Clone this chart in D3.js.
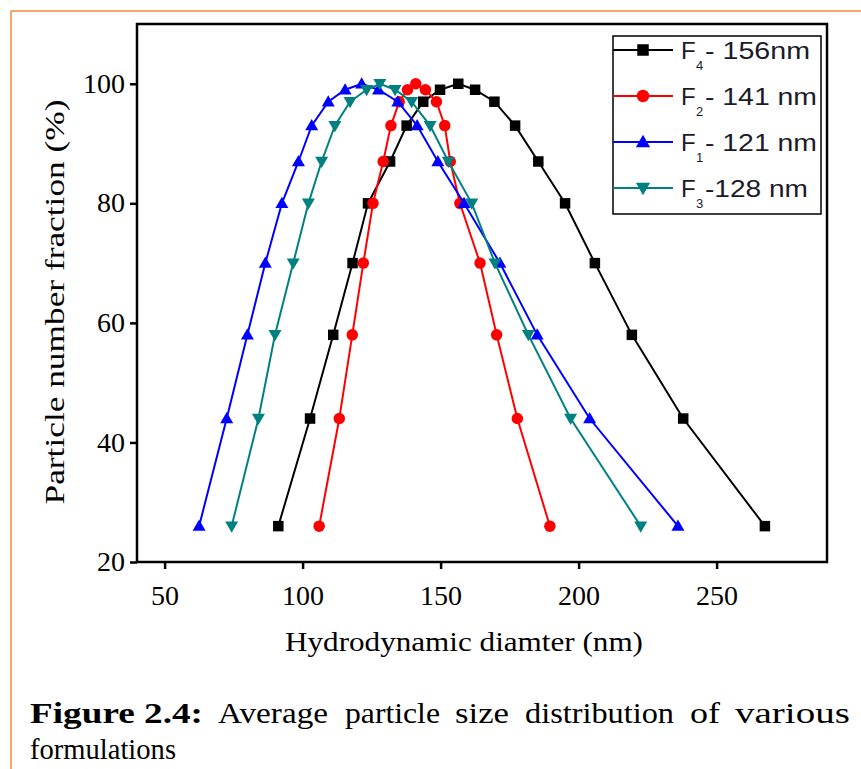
<!DOCTYPE html>
<html>
<head>
<meta charset="utf-8">
<script src="https://cdn.jsdelivr.net/npm/d3@7"></script>
<style>
  html, body { margin: 0; padding: 0; background: #fff; }
  svg { display: block; }
</style>
</head>
<body>
<svg id="chart" width="861" height="769"></svg>
<script>
// ---------------- DATA ----------------
const yLevels = [26, 44, 58, 70, 80, 87, 93, 97, 99, 100, 99, 97, 93, 87, 80, 70, 58, 44, 26];
const xF4 = [91.2, 102.7, 111.1, 118.1, 123.7, 131.7, 137.7, 143.7, 149.8, 156.4, 162.5, 169.5, 177, 185.4, 195.1, 205.9, 219.3, 237.9, 267.5];
const xF2 = [106, 113.3, 118, 122, 125.5, 129.2, 132, 135, 138, 141, 144.5, 148.5, 151.5, 153.5, 157, 164.3, 170.3, 177.8, 189.6];
const xF1 = [62.5, 72.5, 80, 86.5, 92.5, 98.5, 103.3, 109.3, 115.4, 121.4, 127.5, 134.5, 141.5, 149, 158.5, 171.5, 185, 204, 236];
const xF3 = [74.3, 84, 90, 96.6, 102.1, 106.9, 111.7, 117.2, 123.2, 128, 133.5, 139.5, 146.2, 152.8, 161.3, 169.7, 181.8, 197.1, 222.5];
const seriesNames = ["F4", "F2", "F1", "F3"];
const legendMain = ["F", "F", "F", "F"];
const legendSub = ["4", "2", "1", "3"];
const legendRest = ["- 156nm", "- 141 nm", "- 121 nm", "-128 nm"];
const seriesColors = ["#000000", "#ff0000", "#0000ff", "#008080"];
const seriesSymbols = ["square", "circle", "triUp", "triDown"];
const xTicks = [50, 100, 150, 200, 250];
const yTicks = [20, 40, 60, 80, 100];
const xTitle = "Hydrodynamic diamter (nm)";
const yTitle = "Particle number fraction (%)";
const captionWords1 = ["Figure 2.4:", "Average", "particle", "size", "distribution", "of", "various"];
const captionLine2 = "formulations";

// ---------------- LAYOUT ----------------
const svg = d3.select("#chart");
const L = 137, R = 827, T = 24, B = 562;
const x = d3.scaleLinear().domain([40, 290]).range([L, R]);
const y = d3.scaleLinear().domain([20, 110]).range([B, T]);

// orange page frame
svg.append("line").attr("x1", 11).attr("x2", 11).attr("y1", 11).attr("y2", 769)
  .attr("stroke", "#f0883a").attr("stroke-width", 1.5);
svg.append("line").attr("x1", 11).attr("x2", 861).attr("y1", 11).attr("y2", 11)
  .attr("stroke", "#f0883a").attr("stroke-width", 1.5);

const serif = "'Liberation Serif', 'Times New Roman', serif";
const sans = "'Liberation Sans', Arial, sans-serif";

// axes
const xAxis = svg.append("g").attr("transform", `translate(0,${B})`)
  .call(d3.axisBottom(x).tickValues(xTicks).tickSize(7).tickPadding(17).tickFormat(d3.format("d")));
const yAxis = svg.append("g").attr("transform", `translate(${L},0)`)
  .call(d3.axisLeft(y).tickValues(yTicks).tickSize(7).tickPadding(5).tickFormat(d3.format("d")));
[xAxis, yAxis].forEach(g => {
  g.select(".domain").remove();
  g.selectAll(".tick line").attr("stroke", "#000").attr("stroke-width", 2.5);
  g.selectAll(".tick text").attr("fill", "#000").style("font-family", serif).style("font-size", "27px")
    .attr("textLength", d => d >= 100 ? 42 : 28).attr("lengthAdjust", "spacingAndGlyphs");
});

// frame
svg.append("rect").attr("x", L).attr("y", T).attr("width", R - L).attr("height", B - T)
  .attr("fill", "none").attr("stroke", "#000").attr("stroke-width", 2.5);

// symbols
function symbolPath(type, cx, cy, s) {
  if (type === "square") return `M${cx - s/2},${cy - s/2}h${s}v${s}h${-s}Z`;
  if (type === "circle") { const r = s / 2 + 0.5; return `M${cx - r},${cy}a${r},${r} 0 1,0 ${2*r},0a${r},${r} 0 1,0 ${-2*r},0Z`; }
  if (type === "triUp") return `M${cx},${cy - s*0.62}L${cx + s*0.62},${cy + s*0.45}L${cx - s*0.62},${cy + s*0.45}Z`;
  if (type === "triDown") return `M${cx},${cy + s*0.62}L${cx + s*0.62},${cy - s*0.45}L${cx - s*0.62},${cy - s*0.45}Z`;
}

const allX = [xF4, xF2, xF1, xF3];
const line = d3.line().x(d => x(d[0])).y(d => y(d[1]));
allX.forEach((xs, i) => {
  const pts = xs.map((v, j) => [v, yLevels[j]]);
  const g = svg.append("g");
  g.append("path").attr("d", line(pts)).attr("fill", "none")
    .attr("stroke", seriesColors[i]).attr("stroke-width", 2);
  g.selectAll("path.m").data(pts).join("path").attr("class", "m")
    .attr("d", d => symbolPath(seriesSymbols[i], x(d[0]), y(d[1]), 10.5))
    .attr("fill", seriesColors[i]);
});

// legend
const restEnds = [810, 817, 817, 808];
const lg = svg.append("g");
lg.append("rect").attr("x", 613).attr("y", 36).attr("width", 208).attr("height", 178)
  .attr("fill", "#fff").attr("stroke", "#000").attr("stroke-width", 1.5);
seriesNames.forEach((n, i) => {
  const ly = 50 + i * 46;
  lg.append("line").attr("x1", 613).attr("x2", 673).attr("y1", ly).attr("y2", ly)
    .attr("stroke", seriesColors[i]).attr("stroke-width", 2);
  lg.append("path").attr("d", symbolPath(seriesSymbols[i], 643, ly, 11.5)).attr("fill", seriesColors[i]);
  const g = lg.append("g").style("font-family", sans).attr("fill", "#1a1a2a");
  g.append("text").attr("x", 681).attr("y", ly + 9).style("font-size", "24px").text(legendMain[i]);
  g.append("text").attr("x", 696).attr("y", ly + 20).style("font-size", "13px").text(legendSub[i]);
  const restX = 705;
  g.append("text").attr("x", restX).attr("y", ly + 9).style("font-size", "24px")
    .attr("textLength", restEnds[i] - restX).attr("lengthAdjust", "spacingAndGlyphs").text(legendRest[i]);
});

// axis titles
svg.append("text").attr("x", 464).attr("y", 651).attr("text-anchor", "middle")
  .style("font-family", serif).style("font-size", "27px").attr("fill", "#000")
  .attr("textLength", 358).attr("lengthAdjust", "spacingAndGlyphs").text(xTitle);
svg.append("text").attr("transform", "translate(64,302) rotate(-90)").attr("text-anchor", "middle")
  .style("font-family", serif).style("font-size", "27px").attr("fill", "#000")
  .attr("textLength", 405).attr("lengthAdjust", "spacingAndGlyphs").text(yTitle);

// caption: word extents (justified line)
const capStarts = [30, 218, 345, 455, 525, 690, 735];
const capEnds = [203, 328, 440, 509, 674, 720, 850];
const capG = svg.append("g").style("font-family", serif).style("font-size", "30px").attr("fill", "#000");
captionWords1.forEach((w, i) => {
  capG.append("text").attr("x", capStarts[i]).attr("y", 723)
    .style("font-weight", i === 0 ? "bold" : "normal")
    .attr("textLength", capEnds[i] - capStarts[i]).attr("lengthAdjust", "spacingAndGlyphs").text(w);
});
capG.append("text").attr("x", 30).attr("y", 759)
  .attr("textLength", 146).attr("lengthAdjust", "spacingAndGlyphs").text(captionLine2);
</script>
</body>
</html>
